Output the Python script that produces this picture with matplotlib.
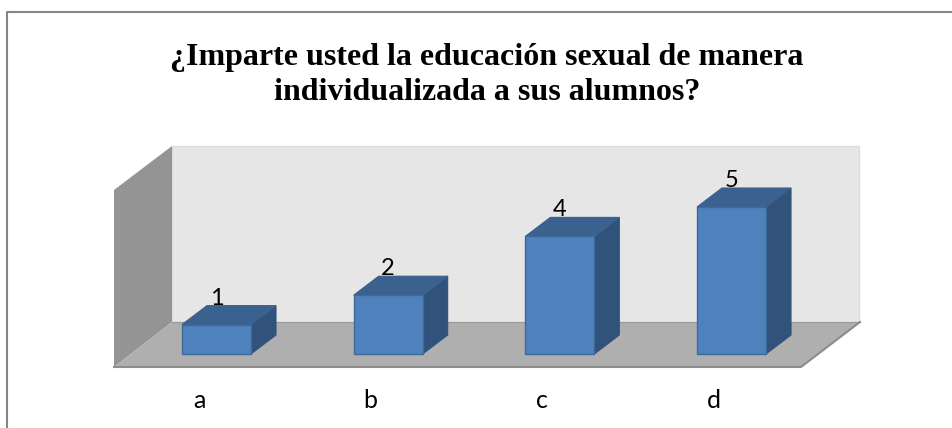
import matplotlib
matplotlib.use("Agg")
import matplotlib.pyplot as plt
from matplotlib.patches import Polygon

# Datos
categorias = ['a', 'b', 'c', 'd']
valores = [1, 2, 4, 5]
titulo = '¿Imparte usted la educación sexual de manera\nindividualizada a sus alumnos?'

W, H = 952, 428
fig = plt.figure(figsize=(W / 100, H / 100), dpi=100, facecolor='white')

# Fondo en coordenadas de pixel: marco, paredes y suelo
bg = fig.add_axes([0, 0, 1, 1], zorder=0)
bg.set_xlim(0, W)
bg.set_ylim(H, 0)
bg.axis('off')

bg.plot([7, 7, W], [H, 12, 12], color='#868686', lw=1.5, solid_capstyle='butt')

bg.add_patch(Polygon([(172, 146), (859, 146), (859, 322), (172, 322)],
                     facecolor='#e6e6e6', edgecolor='#dcdcdc', lw=1))
bg.add_patch(Polygon([(114, 190), (172, 146), (172, 322), (114, 367)],
                     facecolor='#949494', edgecolor='none'))
bg.add_patch(Polygon([(114, 367), (172, 322), (860, 322), (801, 367)],
                     facecolor='#afafaf', edgecolor='none'))
bg.plot([172, 860], [322, 322], color='#9a9a9a', lw=0.8)
bg.plot([860, 801, 114], [322, 367, 367], color='#8c8c8c', lw=1.5)

bg.text(487, 75, titulo, ha='center', va='center', fontsize=23, fontweight='bold',
        family='Liberation Serif', color='black', linespacing=1.31)

# Barras: x = indice de categoria, y = valor
paso_x, paso_y = 171.67, 29.4
x0, y0 = 216.5, 354
ax = fig.add_axes([0, 0, 1, 1], zorder=1)
ax.patch.set_alpha(0)
ax.set_xlim(-x0 / paso_x, (W - x0) / paso_x)
ax.set_ylim(-(H - y0) / paso_y, y0 / paso_y)
ax.axis('off')

ancho = 69 / paso_x
dx, dy = 25 / paso_x, 19 / paso_y

for i, (cat, v) in enumerate(zip(categorias, valores)):
    izq, der = i - ancho / 2, i + ancho / 2
    ax.add_patch(Polygon([(der, 0), (der + dx, dy), (der + dx, v + dy), (der, v)],
                         facecolor='#31527a', edgecolor='#31527a', lw=0.8))
    ax.add_patch(Polygon([(izq, v), (izq + dx, v + dy), (der + dx, v + dy), (der, v)],
                         facecolor='#3b618f', edgecolor='#3b618f', lw=0.8))
    ax.bar(i, v, width=ancho, color='#4f81bd', edgecolor='#40699b', linewidth=1)
    ax.text(i, v + dy + 1 / paso_y, str(v), ha='center', va='baseline', fontsize=17,
            family='Lato', color='black', zorder=5)
    ax.text(i - 17.5 / paso_x, -47 / paso_y, cat, ha='center', va='center', fontsize=18,
            family='Lato', color='black')

fig.savefig('out.png', dpi=100)
